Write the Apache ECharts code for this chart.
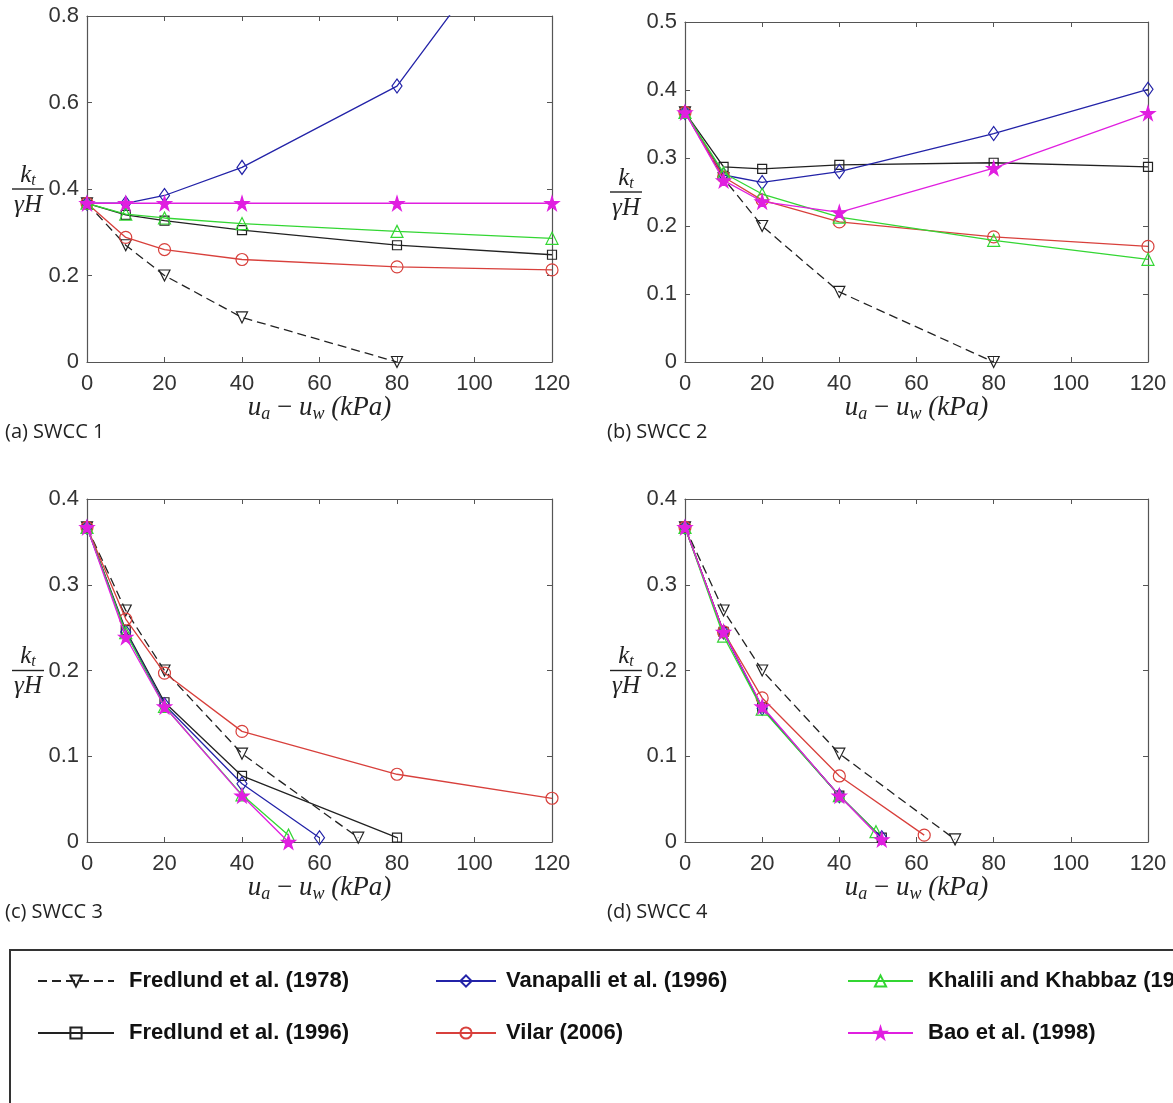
<!DOCTYPE html>
<html><head><meta charset="utf-8">
<script src="https://cdn.jsdelivr.net/npm/echarts@6.0.0/dist/echarts.min.js"></script>
<style>html,body{margin:0;padding:0;background:#fff}#c{width:1173px;height:1103px}</style>
</head><body><div id="c"></div>
<script>
// ---------- data ----------
const NAMES = ['Fredlund et al. (1978)', 'Fredlund et al. (1996)', 'Vanapalli et al. (1996)',
               'Vilar (2006)', 'Khalili and Khabbaz (1998)', 'Bao et al. (1998)'];
const PANEL_TITLES = ['(a) SWCC 1', '(b) SWCC 2', '(c) SWCC 3', '(d) SWCC 4'];
const X_MAX = 120, X_STEP = 20;
const Y_MAX = [0.8, 0.5, 0.4, 0.4];
const Y_STEP = [0.2, 0.1, 0.1, 0.1];

// panel (a) SWCC 1
const A_F78 = [[0,0.367],[10,0.27],[20,0.2],[40,0.103],[80,0]];
const A_F96 = [[0,0.367],[10,0.34],[20,0.327],[40,0.305],[80,0.27],[120,0.248]];
const A_VAN = [[0,0.367],[10,0.367],[20,0.385],[40,0.45],[80,0.638],[120,1.12]];
const A_VIL = [[0,0.367],[10,0.288],[20,0.26],[40,0.237],[80,0.22],[120,0.213]];
const A_KHA = [[0,0.367],[10,0.342],[20,0.333],[40,0.32],[80,0.302],[120,0.286]];
const A_BAO = [[0,0.367],[10,0.367],[20,0.367],[40,0.367],[80,0.367],[120,0.367]];
// panel (b) SWCC 2
const B_F78 = [[0,0.367],[10,0.27],[20,0.2],[40,0.103],[80,0]];
const B_F96 = [[0,0.367],[10,0.287],[20,0.284],[40,0.29],[80,0.293],[120,0.287]];
const B_VAN = [[0,0.367],[10,0.275],[20,0.264],[40,0.28],[80,0.336],[120,0.401]];
const B_VIL = [[0,0.367],[10,0.272],[20,0.238],[40,0.206],[80,0.184],[120,0.17]];
const B_KHA = [[0,0.367],[10,0.278],[20,0.247],[40,0.213],[80,0.179],[120,0.151]];
const B_BAO = [[0,0.367],[10,0.267],[20,0.236],[40,0.22],[80,0.285],[120,0.366]];
// panel (c) SWCC 3
const C_F78 = [[0,0.367],[10,0.27],[20,0.2],[40,0.103],[70,0.005]];
const C_F96 = [[0,0.367],[10,0.247],[20,0.163],[40,0.077],[80,0.005]];
const C_VAN = [[0,0.367],[10,0.245],[20,0.16],[40,0.068],[60,0.005]];
const C_VIL = [[0,0.367],[10,0.26],[20,0.197],[40,0.129],[80,0.079],[120,0.051]];
const C_KHA = [[0,0.367],[10,0.244],[20,0.158],[40,0.055],[52,0.008]];
const C_BAO = [[0,0.367],[10,0.239],[20,0.158],[40,0.054],[52,0]];
// panel (d) SWCC 4
const D_F78 = [[0,0.367],[10,0.27],[20,0.2],[40,0.103],[70,0.003]];
const D_F96 = [[0,0.367],[10,0.245],[20,0.157],[40,0.054],[51,0.005]];
const D_VAN = [[0,0.367],[10,0.245],[20,0.156],[40,0.054],[51,0.005]];
const D_VIL = [[0,0.367],[10,0.245],[20,0.168],[40,0.077],[62,0.008]];
const D_KHA = [[0,0.367],[10,0.24],[20,0.155],[40,0.054],[49.5,0.012]];
const D_BAO = [[0,0.367],[10,0.245],[20,0.158],[40,0.054],[51,0.003]];

const PANEL_DATA = [
  [A_F78, A_F96, A_VAN, A_VIL, A_KHA, A_BAO],
  [B_F78, B_F96, B_VAN, B_VIL, B_KHA, B_BAO],
  [C_F78, C_F96, C_VAN, C_VIL, C_KHA, C_BAO],
  [D_F78, D_F96, D_VAN, D_VIL, D_KHA, D_BAO]
];

// ---------- layout & styles ----------
const GRIDS = [
  {left: 87,  top: 16,  width: 465, height: 346},
  {left: 685, top: 22,  width: 463, height: 340},
  {left: 87,  top: 499, width: 465, height: 343},
  {left: 685, top: 499, width: 463, height: 343}
];
const STAR = 'path://M50,0 L61,35 L98,35 L68,57 L79,91 L50,70 L21,91 L32,57 L2,35 L39,35 Z';
const STYLES = [
  {color: '#222', dash: [9, 5], symbol: 'triangle', rotate: 180, size: 11, fill: 'transparent'},
  {color: '#222', dash: 'solid', symbol: 'rect', rotate: 0, size: 9, fill: 'transparent'},
  {color: '#2323a8', dash: 'solid', symbol: 'diamond', rotate: 0, size: [10, 14], fill: 'transparent'},
  {color: '#d8403c', dash: 'solid', symbol: 'circle', rotate: 0, size: 12, fill: 'transparent'},
  {color: '#33d633', dash: 'solid', symbol: 'triangle', rotate: 0, size: 12, fill: 'transparent'},
  {color: '#e01fe0', dash: 'solid', symbol: STAR, rotate: 0, size: 14, fill: '#e01fe0'}
];
const AX = '#555';
const LABEL_FONT = {fontFamily: 'Liberation Sans, Arial', fontSize: 22, color: '#333'};
const SERIF = 'Liberation Serif';

const xAxis = [], yAxis = [], series = [], graphic = [];
GRIDS.forEach((g, i) => {
  const base = {type: 'value', gridIndex: i, splitLine: {show: false},
    axisLine: {show: true, onZero: false, lineStyle: {color: AX, width: 1.2}},
    axisTick: {show: true, inside: true, length: 5, lineStyle: {color: AX}}};
  xAxis.push(Object.assign({}, base, {position: 'bottom', min: 0, max: X_MAX, interval: X_STEP,
    axisLabel: Object.assign({margin: 11}, LABEL_FONT)}));
  xAxis.push(Object.assign({}, base, {position: 'top', min: 0, max: X_MAX, interval: X_STEP,
    axisLabel: {show: false}}));
  yAxis.push(Object.assign({}, base, {position: 'left', min: 0, max: Y_MAX[i], interval: Y_STEP[i],
    axisLabel: Object.assign({margin: 8}, LABEL_FONT)}));
  yAxis.push(Object.assign({}, base, {position: 'right', min: 0, max: Y_MAX[i], interval: Y_STEP[i],
    axisLabel: {show: false}}));
  PANEL_DATA[i].forEach((d, k) => {
    const s = STYLES[k];
    series.push({
      type: 'line', name: NAMES[k], xAxisIndex: 2 * i, yAxisIndex: 2 * i, data: d,
      symbol: s.symbol, symbolSize: s.size, symbolRotate: s.rotate, showAllSymbol: true,
      lineStyle: {color: s.color, width: 1.3, type: s.dash},
      itemStyle: {color: s.fill, borderColor: s.color, borderWidth: 1.2},
      emphasis: {disabled: true}, animation: false, clip: true, z: 2 + k
    });
  });
  // axis names / captions
  const cx = g.left + g.width / 2;
  const by = g.top + g.height;
  graphic.push({type: 'text', x: cx, y: by + 46, style: {
    text: '{i|u}{s|a}{o| − }{i|u}{s|w}{i| (kPa)}', align: 'center', verticalAlign: 'middle',
    rich: {
      i: {fontFamily: SERIF, fontStyle: 'italic', fontSize: 27, fill: '#222'},
      o: {fontFamily: SERIF, fontSize: 27, fill: '#222'},
      s: {fontFamily: SERIF, fontStyle: 'italic', fontSize: 18, fill: '#222', padding: [13, 0, 0, 0]}
    }}});
  const my = g.top + g.height / 2;
  const fx = g.left - 59;
  graphic.push({type: 'group', x: fx, y: my, children: [
    {type: 'text', x: 0, y: -14, style: {text: '{k|k}{t|t}', align: 'center', verticalAlign: 'middle',
      rich: {k: {fontFamily: SERIF, fontStyle: 'italic', fontSize: 25, fill: '#222'},
             t: {fontFamily: SERIF, fontStyle: 'italic', fontSize: 16, fill: '#222', padding: [11, 0, 0, 0]}}}},
    {type: 'rect', shape: {x: -16, y: -0.7, width: 32, height: 1.4}, style: {fill: '#222'}},
    {type: 'text', x: 0, y: 16, style: {text: 'γH', align: 'center', verticalAlign: 'middle',
      fontFamily: SERIF, fontStyle: 'italic', fontSize: 25, fill: '#222'}}
  ]});
  graphic.push({type: 'text', x: i % 2 === 0 ? 5 : 607, y: by + 70, style: {
    text: PANEL_TITLES[i], verticalAlign: 'middle', fontFamily: 'Open Sans', fontSize: 20, fill: '#222'}});
});
graphic.push({type: 'rect', shape: {x: 10, y: 950, width: 1250, height: 250},
  style: {fill: 'none', stroke: '#333', lineWidth: 2}});

const LEG_TEXT = {fontFamily: 'Liberation Sans Narrow, Liberation Sans', fontWeight: 'bold', fontSize: 22,
  color: '#111'};
const legend = [
  [32, 76, [NAMES[0], NAMES[1]]],
  [430, 60, [NAMES[2], NAMES[3]]],
  [842, 65, [NAMES[4], NAMES[5]]]
].map(([l, w, d]) => ({left: l, top: 965, orient: 'vertical', itemGap: 30, itemWidth: w, itemHeight: 14,
  data: d, textStyle: Object.assign({padding: [0, 0, 0, w === 60 ? 5 : 10]}, LEG_TEXT), selectedMode: false}));

const chart = echarts.init(document.getElementById('c'), null, {renderer: 'canvas'});
chart.setOption({
  backgroundColor: '#fff', animation: false,
  grid: GRIDS.map(g => Object.assign({containLabel: false}, g)),
  xAxis, yAxis, series, legend, graphic
});
</script></body></html>
